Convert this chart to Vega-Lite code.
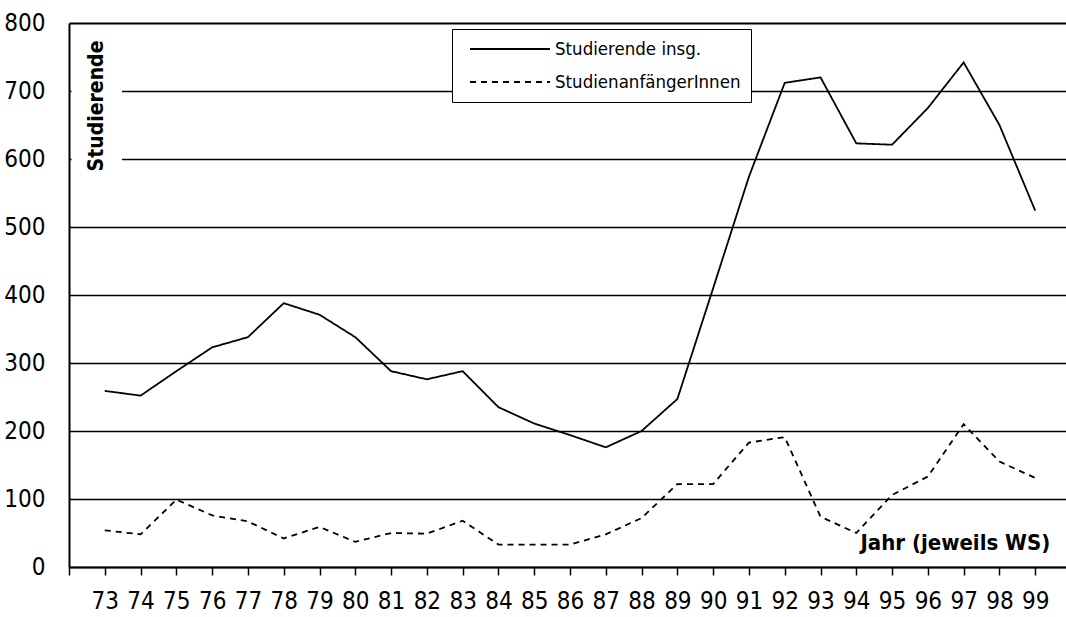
{
  "$schema": "https://vega.github.io/schema/vega-lite/v6.json",
  "width": 997,
  "height": 544,
  "autosize": {"type": "none"},
  "padding": {"left": 69, "top": 23, "right": 0, "bottom": 50},
  "background": "white",
  "config": {"view": {"stroke": null}, "font": "DejaVu Sans Condensed, Liberation Sans"},
  "layer": [
    {
      "data": {"values": [{"box": "title background"}]},
      "mark": {"type": "rect", "fill": "white"},
      "encoding": {
        "x": {
          "datum": 72.07,
          "type": "quantitative",
          "scale": {"domain": [72, 99.86], "nice": false, "zero": false},
          "axis": {
            "title": null,
            "values": [72, 73, 74, 75, 76, 77, 78, 79, 80, 81, 82, 83, 84, 85, 86, 87, 88, 89, 90, 91, 92, 93, 94, 95, 96, 97, 98, 99],
            "tickCount": 40,
            "format": "d",
            "labelExpr": "datum.value == 72 ? '' : datum.label",
            "grid": false,
            "domainColor": "black",
            "domainWidth": 2,
            "tickColor": "black",
            "tickWidth": 1.5,
            "tickSize": 8,
            "labelFont": "DejaVu Sans Condensed, Liberation Sans",
            "labelFontSize": 24,
            "labelColor": "black",
            "labelPadding": 14,
            "labelFlush": false,
            "labelOverlap": false,
            "labelBound": false
          }
        },
        "x2": {"datum": 73.48},
        "y": {
          "datum": 560,
          "type": "quantitative",
          "scale": {"domain": [0, 800], "nice": false},
          "axis": {
            "title": null,
            "values": [0, 100, 200, 300, 400, 500, 600, 700, 800],
            "tickCount": 20,
            "grid": true,
            "gridColor": "black",
            "gridOpacity": 1,
            "gridWidth": {"condition": {"test": "datum.value === 800", "value": 2.2}, "value": 1.3},
            "ticks": false,
            "tickSize": 0,
            "domainColor": "black",
            "domainWidth": 2,
            "labelFont": "DejaVu Sans Condensed, Liberation Sans",
            "labelFontSize": 24,
            "labelColor": "black",
            "labelPadding": 24
          }
        },
        "y2": {"datum": 785}
      }
    },
    {
      "data": {
        "values": [
          {"jahr": 73, "reihe": "Studierende insg.", "wert": 259},
          {"jahr": 74, "reihe": "Studierende insg.", "wert": 252},
          {"jahr": 75, "reihe": "Studierende insg.", "wert": 288},
          {"jahr": 76, "reihe": "Studierende insg.", "wert": 323},
          {"jahr": 77, "reihe": "Studierende insg.", "wert": 338},
          {"jahr": 78, "reihe": "Studierende insg.", "wert": 388},
          {"jahr": 79, "reihe": "Studierende insg.", "wert": 371},
          {"jahr": 80, "reihe": "Studierende insg.", "wert": 338},
          {"jahr": 81, "reihe": "Studierende insg.", "wert": 288},
          {"jahr": 82, "reihe": "Studierende insg.", "wert": 276},
          {"jahr": 83, "reihe": "Studierende insg.", "wert": 288},
          {"jahr": 84, "reihe": "Studierende insg.", "wert": 235},
          {"jahr": 85, "reihe": "Studierende insg.", "wert": 211},
          {"jahr": 86, "reihe": "Studierende insg.", "wert": 194},
          {"jahr": 87, "reihe": "Studierende insg.", "wert": 176},
          {"jahr": 88, "reihe": "Studierende insg.", "wert": 200},
          {"jahr": 89, "reihe": "Studierende insg.", "wert": 247},
          {"jahr": 90, "reihe": "Studierende insg.", "wert": 410},
          {"jahr": 91, "reihe": "Studierende insg.", "wert": 574},
          {"jahr": 92, "reihe": "Studierende insg.", "wert": 712},
          {"jahr": 93, "reihe": "Studierende insg.", "wert": 720},
          {"jahr": 94, "reihe": "Studierende insg.", "wert": 623},
          {"jahr": 95, "reihe": "Studierende insg.", "wert": 621},
          {"jahr": 96, "reihe": "Studierende insg.", "wert": 675},
          {"jahr": 97, "reihe": "Studierende insg.", "wert": 742},
          {"jahr": 98, "reihe": "Studierende insg.", "wert": 650},
          {"jahr": 99, "reihe": "Studierende insg.", "wert": 524},
          {"jahr": 73, "reihe": "StudienanfängerInnen", "wert": 54},
          {"jahr": 74, "reihe": "StudienanfängerInnen", "wert": 48},
          {"jahr": 75, "reihe": "StudienanfängerInnen", "wert": 99},
          {"jahr": 76, "reihe": "StudienanfängerInnen", "wert": 76},
          {"jahr": 77, "reihe": "StudienanfängerInnen", "wert": 67},
          {"jahr": 78, "reihe": "StudienanfängerInnen", "wert": 42},
          {"jahr": 79, "reihe": "StudienanfängerInnen", "wert": 59},
          {"jahr": 80, "reihe": "StudienanfängerInnen", "wert": 37},
          {"jahr": 81, "reihe": "StudienanfängerInnen", "wert": 50},
          {"jahr": 82, "reihe": "StudienanfängerInnen", "wert": 49},
          {"jahr": 83, "reihe": "StudienanfängerInnen", "wert": 68},
          {"jahr": 84, "reihe": "StudienanfängerInnen", "wert": 33},
          {"jahr": 85, "reihe": "StudienanfängerInnen", "wert": 33},
          {"jahr": 86, "reihe": "StudienanfängerInnen", "wert": 33},
          {"jahr": 87, "reihe": "StudienanfängerInnen", "wert": 48},
          {"jahr": 88, "reihe": "StudienanfängerInnen", "wert": 72},
          {"jahr": 89, "reihe": "StudienanfängerInnen", "wert": 122},
          {"jahr": 90, "reihe": "StudienanfängerInnen", "wert": 122},
          {"jahr": 91, "reihe": "StudienanfängerInnen", "wert": 183},
          {"jahr": 92, "reihe": "StudienanfängerInnen", "wert": 191},
          {"jahr": 93, "reihe": "StudienanfängerInnen", "wert": 74},
          {"jahr": 94, "reihe": "StudienanfängerInnen", "wert": 50},
          {"jahr": 95, "reihe": "StudienanfängerInnen", "wert": 106},
          {"jahr": 96, "reihe": "StudienanfängerInnen", "wert": 133},
          {"jahr": 97, "reihe": "StudienanfängerInnen", "wert": 210},
          {"jahr": 98, "reihe": "StudienanfängerInnen", "wert": 155},
          {"jahr": 99, "reihe": "StudienanfängerInnen", "wert": 131}
        ]
      },
      "mark": {"type": "line", "color": "black", "strokeWidth": 1.8},
      "encoding": {
        "x": {
          "field": "jahr",
          "type": "quantitative",
          "scale": {"domain": [72, 99.86], "nice": false, "zero": false},
          "axis": {
            "title": null,
            "values": [72, 73, 74, 75, 76, 77, 78, 79, 80, 81, 82, 83, 84, 85, 86, 87, 88, 89, 90, 91, 92, 93, 94, 95, 96, 97, 98, 99],
            "tickCount": 40,
            "format": "d",
            "labelExpr": "datum.value == 72 ? '' : datum.label",
            "grid": false,
            "domainColor": "black",
            "domainWidth": 2,
            "tickColor": "black",
            "tickWidth": 1.5,
            "tickSize": 8,
            "labelFont": "DejaVu Sans Condensed, Liberation Sans",
            "labelFontSize": 24,
            "labelColor": "black",
            "labelPadding": 14,
            "labelFlush": false,
            "labelOverlap": false,
            "labelBound": false
          }
        },
        "y": {
          "field": "wert",
          "type": "quantitative",
          "scale": {"domain": [0, 800], "nice": false},
          "axis": {
            "title": null,
            "values": [0, 100, 200, 300, 400, 500, 600, 700, 800],
            "tickCount": 20,
            "grid": true,
            "gridColor": "black",
            "gridOpacity": 1,
            "gridWidth": {"condition": {"test": "datum.value === 800", "value": 2.2}, "value": 1.3},
            "ticks": false,
            "tickSize": 0,
            "domainColor": "black",
            "domainWidth": 2,
            "labelFont": "DejaVu Sans Condensed, Liberation Sans",
            "labelFontSize": 24,
            "labelColor": "black",
            "labelPadding": 24
          }
        },
        "strokeDash": {
          "field": "reihe",
          "type": "nominal",
          "scale": {"domain": ["Studierende insg.", "StudienanfängerInnen"], "range": [[1, 0], [6, 5]]},
          "legend": {
            "title": null,
            "orient": "none",
            "legendX": 383,
            "legendY": 6,
            "direction": "vertical",
            "symbolType": "stroke",
            "symbolSize": 6400,
            "symbolStrokeWidth": 2,
            "symbolStrokeColor": "black",
            "clipHeight": 20,
            "rowPadding": 13,
            "padding": 10,
            "symbolOffset": 7,
            "labelOffset": 4,
            "labelFont": "DejaVu Sans Condensed, Liberation Sans",
            "labelFontSize": 18.5,
            "labelColor": "black",
            "labelLimit": 400,
            "fillColor": "white",
            "strokeColor": "black"
          }
        }
      }
    },
    {
      "data": {"values": [{"label": "Studierende"}]},
      "mark": {"type": "text", "angle": 270, "align": "center", "baseline": "middle", "fontWeight": "bold", "fontSize": 21, "font": "DejaVu Sans Condensed, Liberation Sans", "color": "black"},
      "encoding": {
        "x": {"datum": 72.78, "type": "quantitative"},
        "y": {"datum": 678, "type": "quantitative"},
        "text": {"field": "label"}
      }
    },
    {
      "data": {"values": [{"label": "Jahr (jeweils WS)"}]},
      "mark": {"type": "text", "align": "right", "baseline": "middle", "fontWeight": "bold", "fontSize": 22, "font": "DejaVu Sans Condensed, Liberation Sans", "color": "black"},
      "encoding": {
        "x": {"datum": 99.42, "type": "quantitative"},
        "y": {"datum": 35, "type": "quantitative"},
        "text": {"field": "label"}
      }
    }
  ]
}
